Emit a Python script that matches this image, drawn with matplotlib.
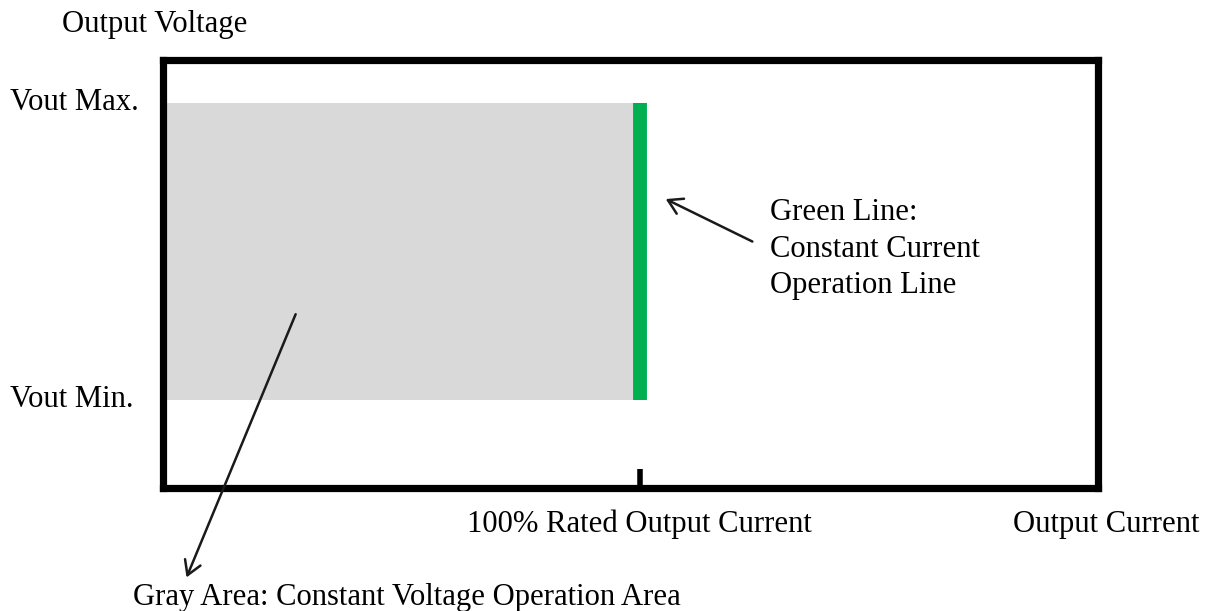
import matplotlib.pyplot as plt

# ============================================================
# OPERATING REGION (normalised units)
# ============================================================
rated_current = 0.51      # 100% rated output current
vout_max = 0.90
vout_min = 0.206

y_labels = ["Vout Max.", "Vout Min."]
y_label_pos = [vout_max, vout_min]

plt.rcParams["font.family"] = ["Liberation Serif", "DejaVu Serif"]
FS = 22.1

fig = plt.figure(figsize=(12.2, 6.11), dpi=100)
ax = fig.add_axes([163 / 1220, 1 - 488 / 611, 935 / 1220, 428 / 611])
ax.set_xlim(0, 1)
ax.set_ylim(0, 1)
ax.set_xticks([])
ax.set_yticks([])
for s in ax.spines.values():
    s.set_linewidth(5.2)
    s.set_capstyle("projecting")

# gray constant-voltage area
ax.fill_between([0, rated_current], vout_min, vout_max, color="#d9d9d9", lw=0, zorder=1)
# green constant-current line
ax.plot([rated_current, rated_current], [vout_min, vout_max], color="#00b050",
        lw=10, solid_capstyle="butt", zorder=2)
# small tick at rated current
ax.plot([rated_current, rated_current], [0, 0.045], color="black", lw=4,
        solid_capstyle="butt", clip_on=False, zorder=3)

# labels
for lab, y in zip(y_labels, y_label_pos):
    ax.text(-0.164, y, lab, ha="left", va="center", fontsize=FS, transform=ax.transAxes)
ax.text(-0.108, 1.082, "Output Voltage", ha="left", va="center", fontsize=FS,
        transform=ax.transAxes)
ax.text(rated_current, -0.085, "100% Rated Output Current", ha="center", va="center",
        fontsize=FS, transform=ax.transAxes)
ax.text(1.109, -0.085, "Output Current", ha="right", va="center", fontsize=FS,
        transform=ax.transAxes)
ax.text(0.649, 0.558, "Green Line:\nConstant Current\nOperation Line", ha="left",
        va="center", fontsize=FS, linespacing=1.34, transform=ax.transAxes)
ax.text(-0.032, -0.255, "Gray Area: Constant Voltage Operation Area", ha="left",
        va="center", fontsize=FS, transform=ax.transAxes, clip_on=False)

# arrows
arrow = dict(arrowstyle="->,head_length=1.0,head_width=0.6", color="#1a1a1a", lw=1.8)
ax.annotate("", xy=(0.535, 0.678), xytext=(0.633, 0.573),
            xycoords="axes fraction", arrowprops=arrow)
ax.annotate("", xy=(0.024, -0.215), xytext=(0.143, 0.412),
            xycoords="axes fraction", arrowprops=arrow, annotation_clip=False)

fig.savefig("out.png", dpi=100)
